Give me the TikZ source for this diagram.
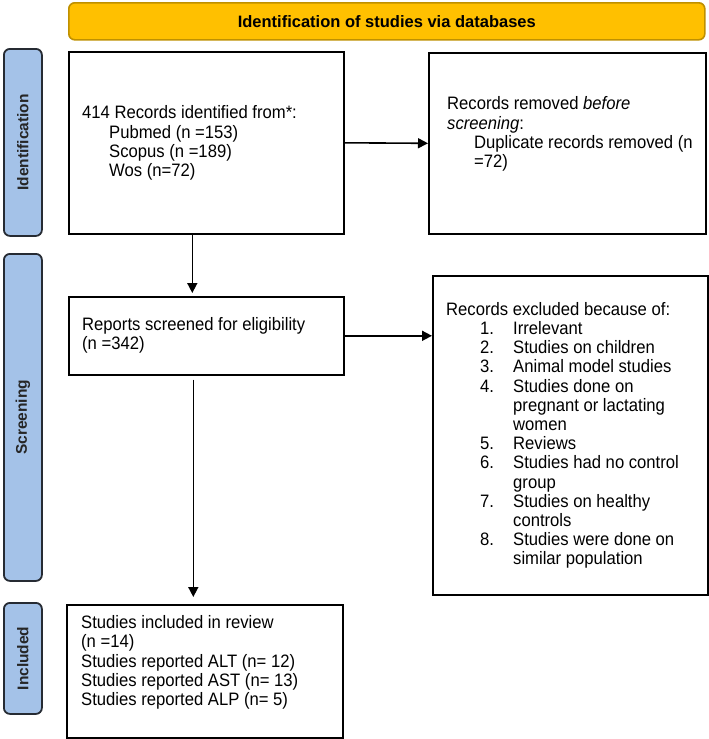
\documentclass[tikz,border=0pt]{standalone}
\usepackage{fontspec}
\setmainfont{Liberation Sans}[FakeStretch=0.925]
\newfontfamily\lblfont{Liberation Sans}
\usetikzlibrary{arrows.meta}
\definecolor{bannerfill}{HTML}{FFC000}
\definecolor{bannerline}{HTML}{BF9000}
\definecolor{barfill}{HTML}{A4C2E8}
\definecolor{barline}{HTML}{262B33}
\tikzset{
  box/.style={draw=black, line width=1.6pt, fill=white, inner sep=0pt, anchor=north west},
  banner/.style={draw=bannerline, line width=1.6pt, fill=bannerfill, rounded corners=6pt, inner sep=0pt, anchor=north west},
  bar/.style={draw=barline, line width=1.8pt, fill=barfill, rounded corners=6pt, inner sep=0pt, anchor=north west},
  bartext/.style={rotate=90, font=\lblfont\fontsize{15.5}{18}\selectfont\bfseries, text=black!85},
  txt/.style={anchor=west, align=left, inner sep=0pt, font=\fontsize{18}{19.2}\selectfont},
  arr/.style={line width=1.6pt, -{Triangle[length=10pt,width=10pt]}}
}
\newcommand{\ind}{\hspace*{27pt}}
\newcommand{\itm}[2]{\hspace*{34pt}\makebox[33pt][l]{#1}#2}
\newcommand{\cnt}{\hspace*{67pt}}
\begin{document}
\begin{tikzpicture}[x=1pt,y=-1pt]
\useasboundingbox (0,0) rectangle (709,739);
% banner
\node[banner, minimum width=636pt, minimum height=37pt] (ban) at (68,2) {};
\node[font=\lblfont\fontsize{16.5}{19}\selectfont\bfseries] (bantxt) at (ban.center) {Identification of studies via databases};
% side bars
\node[bar, minimum width=38pt, minimum height=187pt] (bid) at (3,48) {};
\node[bartext] (bidt) at (bid.center) {Identification};
\node[bar, minimum width=38pt, minimum height=327pt] (bsc) at (3,253) {};
\node[bartext] (bsct) at (bsc.center) {Screening};
\node[bar, minimum width=38pt, minimum height=111pt] (bin) at (3,602) {};
\node[bartext] (bint) at (bin.center) {Included};
% boxes
\node[box, minimum width=275pt, minimum height=182pt] (A) at (68,51) {};
\node[box, minimum width=277pt, minimum height=181pt] (B) at (428,52) {};
\node[box, minimum width=275pt, minimum height=78pt] (C) at (68,296) {};
\node[box, minimum width=275pt, minimum height=319pt] (D) at (432,275) {};
\node[box, minimum width=276pt, minimum height=133pt] (E) at (66,604) {};
% texts
\node[txt] (At) at (82,143) {414 Records identified from*:\\\ind Pubmed (n =153)\\\ind Scopus (n =189)\\\ind Wos (n=72)};
\node[txt] (Bt) at (447,134) {Records removed \textit{before}\\\textit{screening}:\\\ind Duplicate records removed (n\\\ind =72)};
\node[txt] (Ct) at (82,335.5) {Reports screened for eligibility\\(n =342)};
\node[txt] (Dt) at (446,435.5) {Records excluded because of:\\
\itm{1.}{Irrelevant}\\
\itm{2.}{Studies on children}\\
\itm{3.}{Animal model studies}\\
\itm{4.}{Studies done on}\\
\cnt pregnant or lactating\\
\cnt women\\
\itm{5.}{Reviews}\\
\itm{6.}{Studies had no control}\\
\cnt group\\
\itm{7.}{Studies on healthy}\\
\cnt controls\\
\itm{8.}{Studies were done on}\\
\cnt similar population};
\node[txt] (Et) at (81,662.5) {Studies included in review\\(n =14)\\Studies reported ALT (n= 12)\\Studies reported AST (n= 13)\\Studies reported ALP (n= 5)};
% connectors
\draw[arr] (A.east) -- (B.west);
\draw[arr, shorten >=3pt] ([xshift=-14pt]A.south) -- ([xshift=-14pt]C.north);
\draw[arr] (C.east) -- (C.east -| D.west);
\draw[arr, shorten <=4pt, shorten >=7pt] ([xshift=-13pt]C.south) -- ([xshift=-13pt]C.south |- E.north);
\end{tikzpicture}
\end{document}
